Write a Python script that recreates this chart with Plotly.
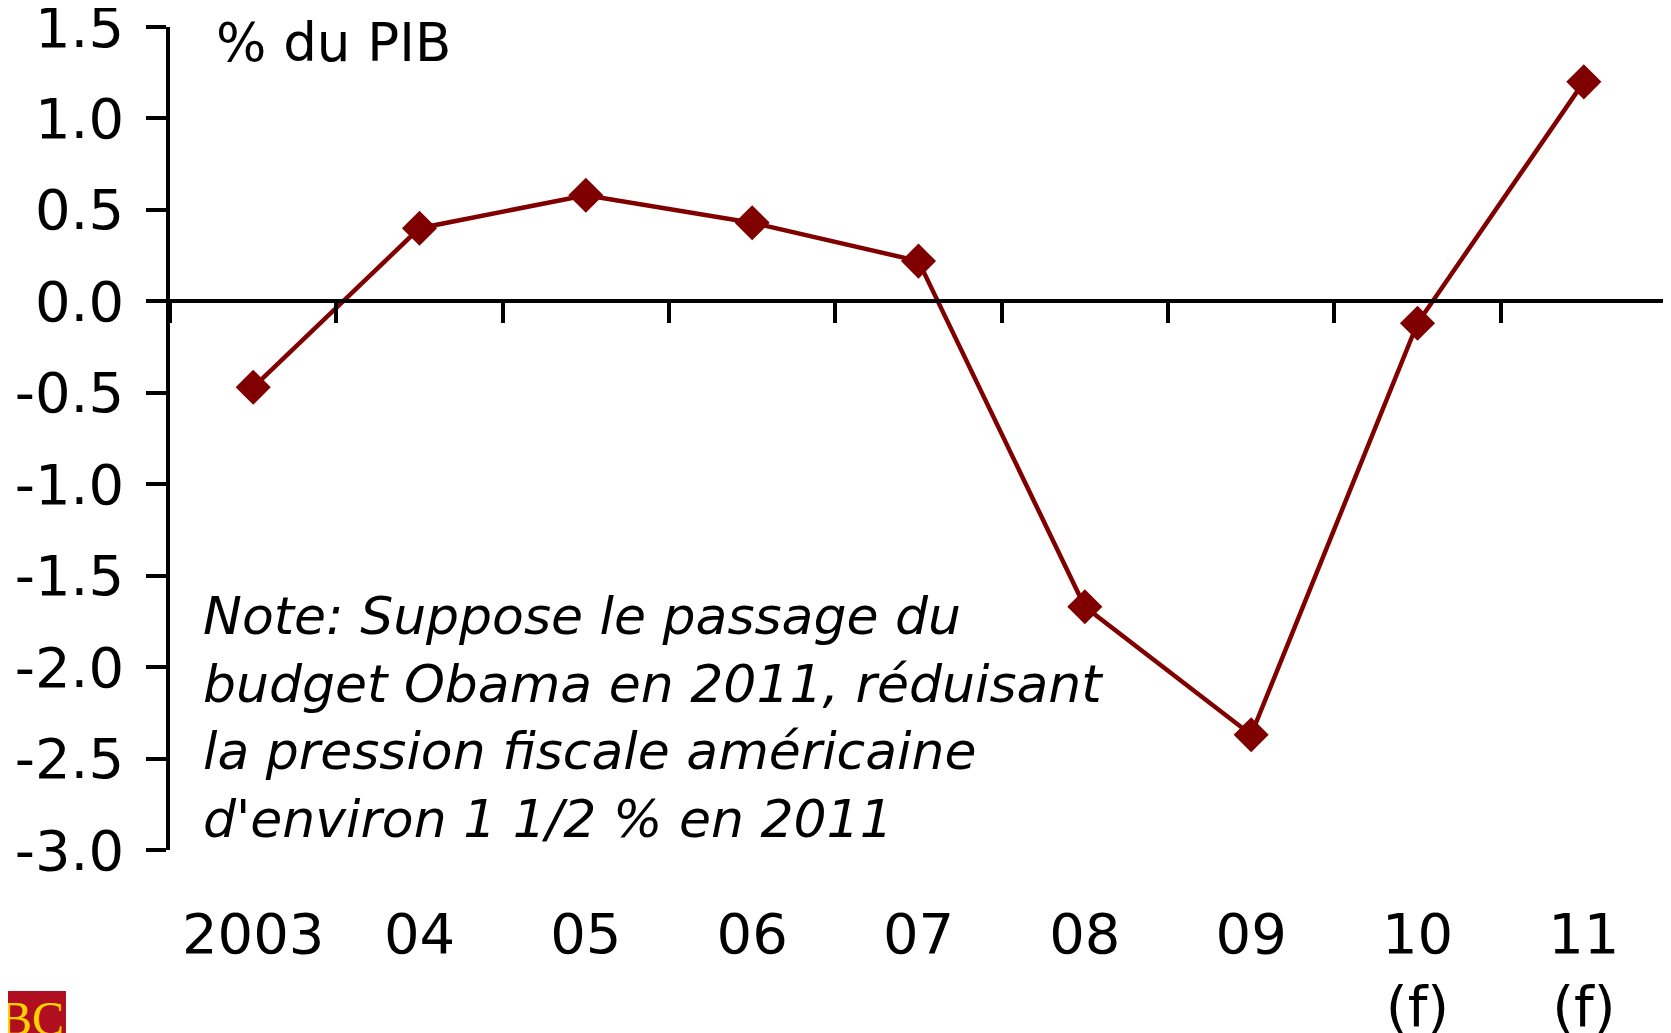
import plotly.graph_objects as go

years = ["2003", "04", "05", "06", "07", "08", "09", "10", "11"]
tick_labels = ["2003", "04", "05", "06", "07", "08", "09", "10<br>(f)", "11<br>(f)"]
values = [-0.47, 0.40, 0.58, 0.43, 0.22, -1.67, -2.37, -0.12, 1.20]
y_ticks = [1.5, 1.0, 0.5, 0.0, -0.5, -1.0, -1.5, -2.0, -2.5, -3.0]
y_tick_labels = ["1.5", "1.0", "0.5", "0.0", "-0.5", "-1.0", "-1.5", "-2.0", "-2.5", "-3.0"]

unit_label = "% du PIB"
note_text = ("Note: Suppose le passage du<br>budget Obama en 2011, réduisant<br>"
             "la pression fiscale américaine<br>d'environ 1 1/2 % en 2011")

FONT = "DejaVu Sans"
RED = "#800000"
YMIN, YMAX = -3.0, 1.5

fig = go.Figure()
fig.add_trace(go.Scatter(
    x=years, y=values, mode="lines+markers",
    line=dict(color=RED, width=4.5),
    marker=dict(symbol="diamond", size=27, color=RED),
    showlegend=False, hoverinfo="skip", cliponaxis=False,
))
# invisible trace to carry categories for the zero-line axis
fig.add_trace(go.Scatter(
    x=years, y=values, xaxis="x2", mode="markers",
    marker=dict(opacity=0), showlegend=False, hoverinfo="skip",
))

fig.update_layout(
    width=1663, height=1025,
    margin=dict(l=162, r=4, t=19, b=183),
    paper_bgcolor="white", plot_bgcolor="white",
    font=dict(family=FONT, color="black", size=56),
    xaxis=dict(
        type="category", range=[-0.5, 8.5], automargin=False,
        tickmode="array", tickvals=years, ticktext=tick_labels,
        showline=False, ticks="", showgrid=False, zeroline=False,
        tickfont=dict(size=56, family=FONT), ticklabelstandoff=46,
    ),
    xaxis2=dict(
        type="category", range=[-0.5, 8.5], overlaying="x", automargin=False,
        anchor="free", position=(0 - YMIN) / (YMAX - YMIN),
        showline=True, linecolor="black", linewidth=3.5,
        ticks="outside", ticklen=20, tickwidth=3.5, tickcolor="black",
        tickson="boundaries", showticklabels=False, showgrid=False, zeroline=False,
    ),
    yaxis=dict(
        range=[YMIN, YMAX + 1e-6], automargin=False,
        tickmode="array", tickvals=y_ticks, ticktext=y_tick_labels,
        showline=True, linecolor="black", linewidth=3.5,
        ticks="outside", ticklen=20, tickwidth=3.5, tickcolor="black",
        showgrid=False, zeroline=False, ticklabeloverflow="allow",
        tickfont=dict(size=56, family=FONT), ticklabelstandoff=11,
    ),
    annotations=[
        dict(text=unit_label, xref="paper", yref="paper", x=0.0293, y=1.021,
             xanchor="left", yanchor="top", showarrow=False,
             font=dict(size=53, family=FONT, color="black")),
        dict(text=note_text, xref="paper", yref="paper", x=0.0204, y=0.3233,
             xanchor="left", yanchor="top", align="left", showarrow=False,
             font=dict(size=52, family=FONT, color="black", style="italic")),
        dict(text="RBC", xref="paper", yref="paper", x=-0.0695, y=-0.170,
             xanchor="right", yanchor="top", showarrow=False,
             font=dict(size=48, family="Liberation Serif", color="#FFD200")),
    ],
    shapes=[
        dict(type="rect", xref="paper", yref="paper", layer="below",
             x0=-0.12, x1=-0.0695, y0=-0.23, y1=-0.1713,
             fillcolor="#AF0F1F", line=dict(width=0)),
    ],
)

fig.write_html("out.html")
